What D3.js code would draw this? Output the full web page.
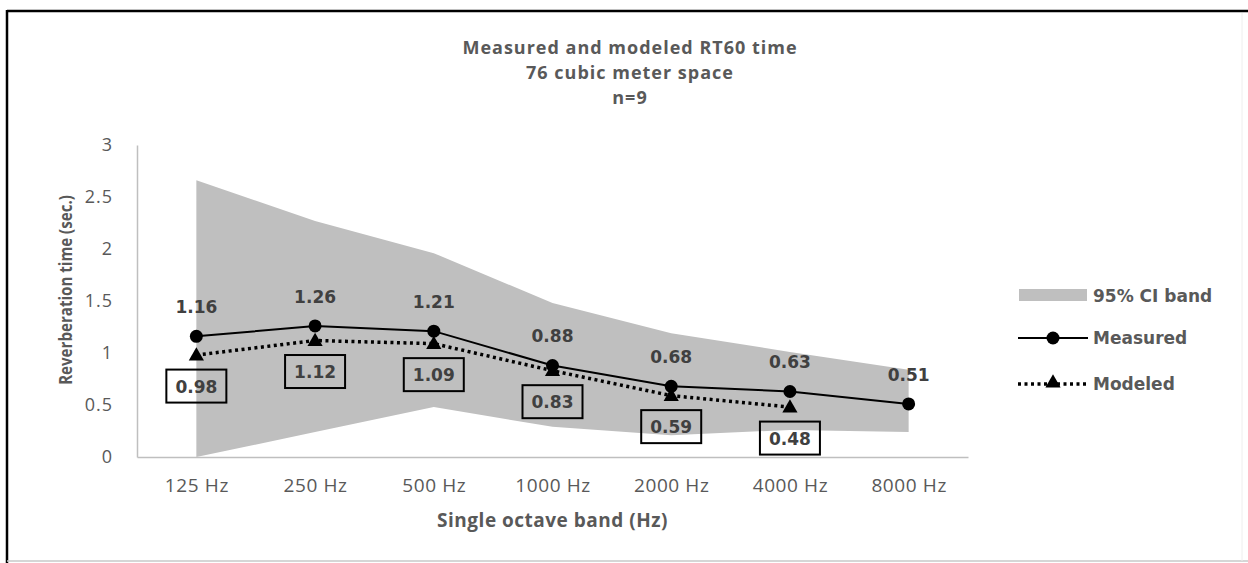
<!DOCTYPE html>
<html>
<head>
<meta charset="utf-8">
<script src="https://cdnjs.cloudflare.com/ajax/libs/d3/7.8.5/d3.min.js"></script>
<style>
  body { margin: 0; background: #fff; }
  svg { display: block; }
</style>
</head>
<body>
<div id="chart"></div>
<script>
// data
const bands = ["125 Hz", "250 Hz", "500 Hz", "1000 Hz", "2000 Hz", "4000 Hz", "8000 Hz"];
const measured = [1.16, 1.26, 1.21, 0.88, 0.68, 0.63, 0.51];
const modeled = [0.98, 1.12, 1.09, 0.83, 0.59, 0.48];
const ciUpper = [2.66, 2.27, 1.96, 1.48, 1.19, 1.01, 0.84];
const ciLower = [0.00, 0.24, 0.48, 0.29, 0.21, 0.26, 0.24];
const yTicks = [0, 0.5, 1, 1.5, 2, 2.5, 3];
const titleLines = ["Measured and modeled RT60 time", "76 cubic meter space", "n=9"];

const W = 1248, H = 563;
const TEXT = "#595959", LABEL = "#404040", BAND = "#bfbfbf", AXIS = "#bfbfbf";
const SANS = "'Open Sans', sans-serif";
const BOLD = "'DejaVu Sans', Verdana, sans-serif";

var plot = { left: 137, right: 968, top: 145, bottom: 457 };

var svg = d3.select("#chart")
    .append("svg")
    .attr("width", W)
    .attr("height", H);

// outer frame
svg.append("line").attr("x1", 7).attr("x2", 1248).attr("y1", 11).attr("y2", 11)
    .attr("stroke", "#000").attr("stroke-width", 2.5);
svg.append("line").attr("x1", 7).attr("x2", 7).attr("y1", 10).attr("y2", 563)
    .attr("stroke", "#000").attr("stroke-width", 2.5);
svg.append("line").attr("x1", 7).attr("x2", 1248).attr("y1", 561).attr("y2", 561)
    .attr("stroke", "#c8c8c8").attr("stroke-width", 1.5);
svg.append("line").attr("x1", 1242).attr("x2", 1242).attr("y1", 13).attr("y2", 561)
    .attr("stroke", "#eeeeee").attr("stroke-width", 1);

// scales
var x = d3.scalePoint()
    .domain(bands)
    .range([plot.left, plot.right])
    .padding(0.5);

var y = d3.scaleLinear()
    .domain([0, 3])
    .range([plot.bottom, plot.top]);

// title
svg.append("g")
    .selectAll("text")
    .data(titleLines)
    .enter()
    .append("text")
    .attr("x", 630)
    .attr("y", (d, i) => [54, 79, 104][i])
    .attr("text-anchor", "middle")
    .style("font-family", SANS)
    .style("font-weight", "bold")
    .style("font-size", "18px")
    .style("letter-spacing", "1px")
    .style("fill", TEXT)
    .text(d => d);

// CI band
var bandData = bands.map((b, i) => ({ b: b, lo: ciLower[i], hi: ciUpper[i] }));
svg.append("path")
    .datum(bandData)
    .attr("d", d3.area()
        .x(d => x(d.b))
        .y0(d => y(d.lo))
        .y1(d => y(d.hi)))
    .style("fill", BAND);

// axes
var yAxis = svg.append("g")
    .attr("transform", "translate(" + plot.left + ",0)")
    .call(d3.axisLeft(y)
        .tickValues(yTicks)
        .tickFormat(d => String(d))
        .tickSize(0)
        .tickPadding(24));
yAxis.select(".domain").attr("stroke", AXIS).attr("stroke-width", 1.5);
yAxis.selectAll("text")
    .style("font-family", SANS)
    .style("font-size", "18px")
    .style("letter-spacing", "1px")
    .style("fill", TEXT);

var xAxis = svg.append("g")
    .attr("transform", "translate(0," + plot.bottom + ")")
    .call(d3.axisBottom(x)
        .tickSize(0)
        .tickPadding(22));
xAxis.select(".domain").attr("stroke", AXIS).attr("stroke-width", 1.5);
xAxis.selectAll("text")
    .style("font-family", SANS)
    .style("font-size", "19px")
    .style("letter-spacing", "0.6px")
    .style("fill", TEXT);

// axis titles
svg.append("text")
    .attr("x", (plot.left + plot.right) / 2)
    .attr("y", 527)
    .attr("text-anchor", "middle")
    .style("font-family", SANS)
    .style("font-weight", "bold")
    .style("font-size", "19px")
    .style("letter-spacing", "0.5px")
    .style("fill", TEXT)
    .text("Single octave band (Hz)");

svg.append("text")
    .attr("transform", "translate(72,290) rotate(-90) scale(0.84,1)")
    .attr("text-anchor", "middle")
    .style("font-family", SANS)
    .style("font-weight", "bold")
    .style("font-size", "18px")
    .style("fill", TEXT)
    .text("Reverberation time (sec.)");

// lines
var lineGen = d3.line()
    .x(d => x(d.b))
    .y(d => y(d.v));

var measData = bands.map((b, i) => ({ b: b, v: measured[i] }));
var modData = modeled.map((v, i) => ({ b: bands[i], v: v }));

svg.append("path")
    .datum(modData)
    .attr("d", lineGen)
    .style("fill", "none")
    .style("stroke", "#000")
    .style("stroke-width", 3.5)
    .style("stroke-dasharray", "3,3.5");

svg.append("path")
    .datum(measData)
    .attr("d", lineGen)
    .style("fill", "none")
    .style("stroke", "#000")
    .style("stroke-width", 2);

var tri = d3.symbol().type(d3.symbolTriangle).size(100);

svg.selectAll(".tri")
    .data(modData)
    .enter()
    .append("path")
    .attr("class", "tri")
    .attr("d", tri)
    .attr("transform", d => "translate(" + x(d.b) + "," + (y(d.v) + 1) + ")")
    .style("fill", "#000");

svg.selectAll(".dot")
    .data(measData)
    .enter()
    .append("circle")
    .attr("class", "dot")
    .attr("cx", d => x(d.b))
    .attr("cy", d => y(d.v))
    .attr("r", 6.5)
    .style("fill", "#000");

// measured value labels
svg.selectAll(".mlab")
    .data(measData)
    .enter()
    .append("text")
    .attr("class", "mlab")
    .attr("x", d => x(d.b))
    .attr("y", d => y(d.v) - 23)
    .attr("text-anchor", "middle")
    .style("font-family", BOLD)
    .style("font-weight", "bold")
    .style("font-size", "17px")
    .style("fill", LABEL)
    .text(d => d.v.toFixed(2));

// modeled value labels in boxes
var boxes = svg.selectAll(".mbox")
    .data(modData)
    .enter()
    .append("g")
    .attr("class", "mbox")
    .attr("transform", d => "translate(" + x(d.b) + "," + (y(d.v) + 31) + ")");
boxes.append("rect")
    .attr("x", -30)
    .attr("y", -16.5)
    .attr("width", 60)
    .attr("height", 33)
    .style("fill", "none")
    .style("stroke", "#000")
    .style("stroke-width", 2);
boxes.append("text")
    .attr("y", 6.5)
    .attr("text-anchor", "middle")
    .style("font-family", BOLD)
    .style("font-weight", "bold")
    .style("font-size", "17px")
    .style("fill", LABEL)
    .text(d => d.v.toFixed(2));

// legend
var legend = svg.append("g").attr("transform", "translate(1018,0)");
legend.append("rect")
    .attr("x", 1).attr("y", 289).attr("width", 68).attr("height", 12)
    .style("fill", BAND);
legend.append("line")
    .attr("x1", 0).attr("x2", 70).attr("y1", 338).attr("y2", 338)
    .style("stroke", "#000").style("stroke-width", 2);
legend.append("circle")
    .attr("cx", 35).attr("cy", 338).attr("r", 6.5)
    .style("fill", "#000");
legend.append("line")
    .attr("x1", 0).attr("x2", 70).attr("y1", 384).attr("y2", 384)
    .style("stroke", "#000").style("stroke-width", 3.5)
    .style("stroke-dasharray", "3,3.5");
legend.append("path")
    .attr("d", tri)
    .attr("transform", "translate(35,383)")
    .style("fill", "#000");

legend.selectAll(".ltxt")
    .data(["95% CI band", "Measured", "Modeled"])
    .enter()
    .append("text")
    .attr("class", "ltxt")
    .attr("x", 75)
    .attr("y", (d, i) => [302, 344, 390][i])
    .style("font-family", BOLD)
    .style("font-weight", "bold")
    .style("font-size", "17px")
    .style("fill", TEXT)
    .text(d => d);
</script>
</body>
</html>
